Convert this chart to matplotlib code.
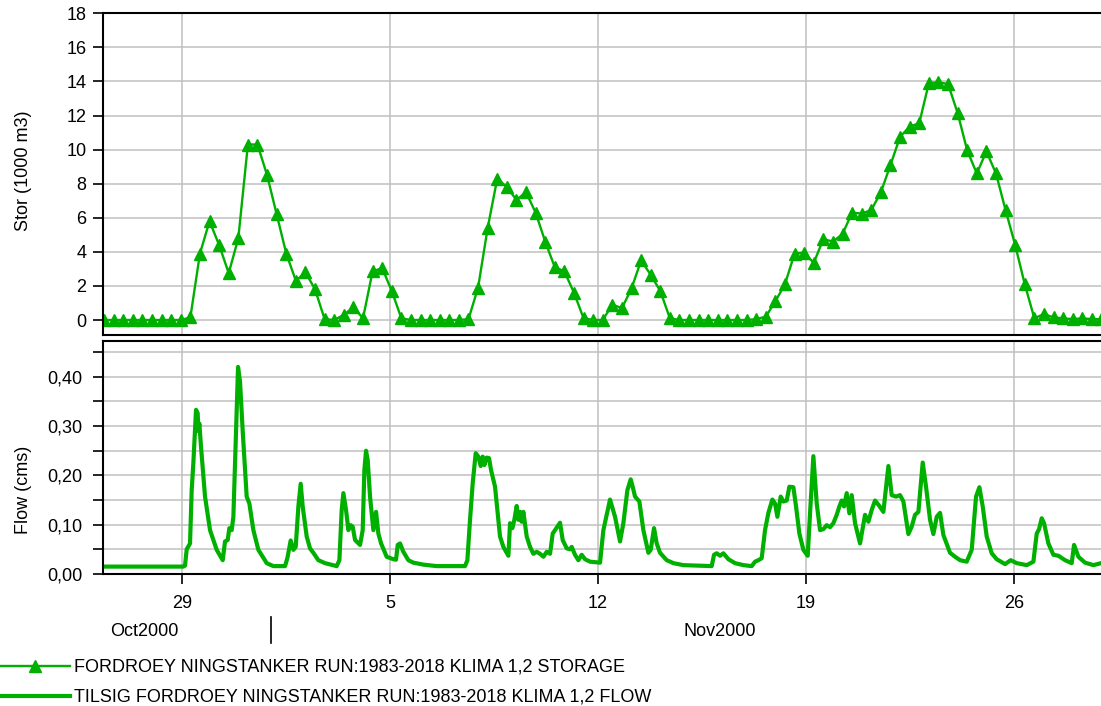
import matplotlib
matplotlib.use("Agg")
import matplotlib.pyplot as plt
from matplotlib.ticker import FixedLocator, MultipleLocator, FuncFormatter

plt.rcParams["font.family"] = ["Liberation Sans", "DejaVu Sans"]

GREEN = "#00B000"
GRID = "#C0C0C0"

# x values are days counted from 29 Oct 2000 00:00
DAY_TICKS = [0, 7, 14, 21, 28]
DAY_LABELS = ["29", "5", "12", "19", "26"]
X_MIN, X_MAX = -2.66, 30.93
MONTH_LABELS = ["Oct2000", "Nov2000"]
MONTH_LABEL_DAYS = [-1.28, 18.1]
MONTH_BREAK_DAY = 3.0

# storage (1000 m3), one value per plotted symbol
STORAGE_START = -2.625
STORAGE_STEP = 0.3228
storage = [
    0, 0, 0, 0, 0, 0, 0, 0, 0, 0.15,
    3.9, 5.8, 4.4, 2.75, 4.8, 10.3, 10.3, 8.5, 6.2, 3.9,
    2.3, 2.8, 1.8, 0.05, 0, 0.3, 0.75, 0.1, 2.85, 3.05,
    1.7, 0.1, 0, 0, 0, 0, 0, 0, 0.05, 1.9,
    5.4, 8.3, 7.8, 7.05, 7.5, 6.3, 4.6, 3.1, 2.85, 1.6,
    0.1, 0, 0, 0.9, 0.7, 1.85, 3.5, 2.65, 1.7, 0.1,
    0, 0, 0, 0, 0, 0, 0, 0, 0.05, 0.2,
    1.1, 2.1, 3.9, 3.95, 3.35, 4.75, 4.6, 5.05, 6.3, 6.25,
    6.45, 7.5, 9.1, 10.75, 11.35, 11.55, 13.9, 13.95, 13.85, 12.15,
    9.95, 8.6, 9.9, 8.6, 6.45, 4.4, 2.1, 0.1, 0.35, 0.15,
    0.1, 0.05, 0.1, 0.05, 0.05,
]
storage_days = [STORAGE_START + STORAGE_STEP * i for i in range(len(storage))]

# inflow (cms)
flow_days = [
    -2.7, 0.045, 0.101, 0.157, 0.269, 0.325, 0.381, 0.471, 0.527, 0.550,
    0.583, 0.639, 0.774, 0.942, 1.167, 1.369, 1.447, 1.537, 1.593, 1.672,
    1.728, 1.817, 1.885, 1.952, 2.042, 2.176, 2.266, 2.401, 2.569, 2.850,
    3.074, 3.467, 3.545, 3.657, 3.747, 3.826, 3.916, 3.994, 4.061, 4.196,
    4.308, 4.420, 4.589, 4.813, 5.206, 5.296, 5.374, 5.430, 5.520, 5.598,
    5.677, 5.744, 5.823, 5.991, 6.081, 6.137, 6.193, 6.249, 6.328, 6.440,
    6.530, 6.608, 6.700, 6.888, 7.113, 7.203, 7.259, 7.337, 7.449, 7.618,
    7.786, 8.123, 8.571, 9.525, 9.604, 9.693, 9.783, 9.884, 9.974, 10.052,
    10.120, 10.176, 10.254, 10.333, 10.400, 10.535, 10.613, 10.703, 10.815, 10.984,
    11.040, 11.118, 11.185, 11.264, 11.320, 11.376, 11.432, 11.488, 11.601, 11.713,
    11.825, 11.937, 12.049, 12.162, 12.274, 12.386, 12.476, 12.554, 12.722, 12.812,
    12.947, 13.059, 13.115, 13.227, 13.340, 13.452, 13.564, 13.732, 14.069, 14.181,
    14.405, 14.574, 14.742, 14.854, 14.989, 15.101, 15.168, 15.247, 15.393, 15.527,
    15.696, 15.774, 15.886, 15.976, 16.088, 16.313, 16.537, 16.874, 17.827, 17.906,
    17.996, 18.108, 18.220, 18.389, 18.613, 18.894, 19.174, 19.286, 19.398, 19.510,
    19.622, 19.735, 19.869, 19.959, 20.038, 20.150, 20.240, 20.352, 20.441, 20.576,
    20.666, 20.778, 20.913, 21.059, 21.137, 21.249, 21.362, 21.474, 21.586, 21.698,
    21.810, 21.922, 22.035, 22.124, 22.203, 22.281, 22.371, 22.461, 22.540, 22.652,
    22.820, 22.988, 23.101, 23.213, 23.325, 23.471, 23.605, 23.774, 23.886, 24.032,
    24.166, 24.279, 24.447, 24.559, 24.671, 24.784, 24.929, 25.041, 25.176, 25.288,
    25.401, 25.513, 25.625, 25.849, 26.018, 26.186, 26.410, 26.579, 26.724, 26.837,
    26.949, 27.083, 27.252, 27.420, 27.701, 27.891, 28.093, 28.430, 28.654, 28.767,
    28.845, 28.935, 29.013, 29.159, 29.327, 29.496, 29.720, 29.945, 30.023, 30.169,
    30.393, 30.674, 30.932,
]
flow_values = [
    0.015, 0.015, 0.017, 0.050, 0.062, 0.170, 0.225, 0.333, 0.326, 0.290,
    0.305, 0.258, 0.157, 0.089, 0.049, 0.028, 0.066, 0.069, 0.093, 0.089,
    0.116, 0.290, 0.420, 0.390, 0.290, 0.157, 0.143, 0.089, 0.049, 0.022,
    0.016, 0.016, 0.032, 0.068, 0.049, 0.055, 0.137, 0.183, 0.137, 0.076,
    0.052, 0.043, 0.028, 0.022, 0.016, 0.028, 0.130, 0.164, 0.130, 0.089,
    0.099, 0.096, 0.069, 0.059, 0.089, 0.211, 0.250, 0.231, 0.157, 0.089,
    0.126, 0.082, 0.062, 0.035, 0.030, 0.029, 0.059, 0.062, 0.045, 0.028,
    0.023, 0.019, 0.016, 0.016, 0.028, 0.110, 0.184, 0.245, 0.238, 0.219,
    0.238, 0.221, 0.236, 0.235, 0.211, 0.177, 0.130, 0.076, 0.055, 0.037,
    0.103, 0.093, 0.110, 0.138, 0.110, 0.126, 0.106, 0.126, 0.076, 0.055,
    0.041, 0.045, 0.041, 0.035, 0.045, 0.041, 0.082, 0.089, 0.104, 0.069,
    0.052, 0.050, 0.055, 0.039, 0.028, 0.039, 0.030, 0.025, 0.023, 0.089,
    0.151, 0.116, 0.066, 0.103, 0.170, 0.192, 0.177, 0.157, 0.147, 0.089,
    0.043, 0.049, 0.093, 0.062, 0.043, 0.028, 0.022, 0.018, 0.016, 0.039,
    0.042, 0.037, 0.042, 0.030, 0.022, 0.018, 0.016, 0.025, 0.028, 0.032,
    0.089, 0.124, 0.151, 0.143, 0.116, 0.157, 0.147, 0.149, 0.177, 0.176,
    0.137, 0.082, 0.049, 0.037, 0.123, 0.239, 0.143, 0.089, 0.091, 0.099,
    0.095, 0.103, 0.120, 0.137, 0.149, 0.137, 0.164, 0.123, 0.160, 0.103,
    0.062, 0.120, 0.106, 0.130, 0.149, 0.138, 0.126, 0.219, 0.160, 0.157,
    0.160, 0.147, 0.081, 0.096, 0.120, 0.126, 0.226, 0.177, 0.110, 0.081,
    0.116, 0.124, 0.079, 0.043, 0.035, 0.028, 0.025, 0.049, 0.157, 0.176,
    0.137, 0.076, 0.042, 0.030, 0.020, 0.028, 0.022, 0.018, 0.025, 0.082,
    0.091, 0.113, 0.103, 0.062, 0.039, 0.037, 0.028, 0.022, 0.059, 0.035,
    0.023, 0.018, 0.022,
]

LEGEND_LABELS = [
    "FORDROEY NINGSTANKER RUN:1983-2018 KLIMA 1,2 STORAGE",
    "TILSIG FORDROEY NINGSTANKER RUN:1983-2018 KLIMA 1,2 FLOW",
]

W, H = 1101, 706


def box(left, top, right, bottom):
    return [left / W, 1 - bottom / H, (right - left) / W, (bottom - top) / H]


fig = plt.figure(figsize=(W / 100, H / 100), dpi=100)
ax1 = fig.add_axes(box(103, 13.3, 1101, 335))
ax2 = fig.add_axes(box(103, 341, 1101, 574))

for ax in (ax1, ax2):
    ax.set_xlim(X_MIN, X_MAX)
    ax.xaxis.set_major_locator(FixedLocator(DAY_TICKS))
    ax.grid(True, which="both", color=GRID, lw=1.1)
    ax.set_axisbelow(True)
    ax.spines["right"].set_visible(False)
    for s in ("left", "top", "bottom"):
        ax.spines[s].set_linewidth(1.5)
    ax.tick_params(axis="y", which="both", length=7, width=1.2, labelsize=13)

# storage panel
(line_stor,) = ax1.plot(storage_days, storage, color=GREEN, lw=1.7,
                        marker="^", ms=8.5, mec=GREEN, mfc=GREEN)
ax1.set_ylim(-0.88, 18)
ax1.yaxis.set_major_locator(MultipleLocator(2))
ax1.tick_params(axis="x", length=0, labelbottom=False)
ax1.tick_params(axis="y", pad=5)
ax1.set_ylabel("Stor (1000 m3)", fontsize=13)
ax1.yaxis.set_label_coords(-0.071, 0.512)

# flow panel
(line_flow,) = ax2.plot(flow_days, flow_values, color=GREEN, lw=3.0,
                        solid_joinstyle="round")
ax2.set_ylim(0, 0.4726)
ax2.yaxis.set_major_locator(MultipleLocator(0.1))
ax2.yaxis.set_minor_locator(MultipleLocator(0.05))
ax2.yaxis.set_major_formatter(FuncFormatter(lambda v, p: f"{v:.2f}".replace(".", ",")))
ax2.tick_params(axis="y", pad=8)
ax2.set_xticklabels(DAY_LABELS)
ax2.tick_params(axis="x", length=7, width=1.2, labelsize=13, pad=8)
ax2.set_ylabel("Flow (cms)", fontsize=13)
ax2.yaxis.set_label_coords(-0.071, 0.36)

trans = ax2.get_xaxis_transform()
for d, lab in zip(MONTH_LABEL_DAYS, MONTH_LABELS):
    ax2.text(d, -0.245, lab, transform=trans, ha="center", va="center", fontsize=13)
ax2.plot([MONTH_BREAK_DAY, MONTH_BREAK_DAY], [-0.1845, -0.296], transform=trans,
         color="black", lw=1.2, clip_on=False)

fig.legend([line_stor, line_flow], LEGEND_LABELS, loc="upper left",
           bbox_to_anchor=(0, 1 - 659 / H), frameon=False, fontsize=13,
           handlelength=3.9, handletextpad=0.2, borderpad=0, borderaxespad=0,
           labelspacing=0.72)

fig.savefig("out.png", dpi=100)
